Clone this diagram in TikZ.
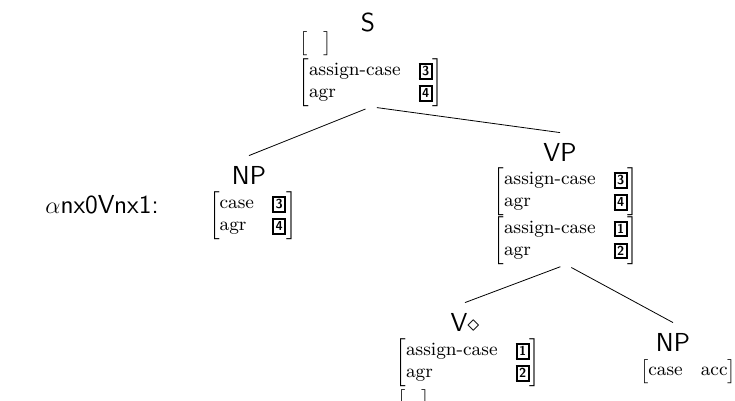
\documentclass[tikz,border=0pt]{standalone}
\usetikzlibrary{positioning}

% boxed re-entrancy tags and feature structures
\newcommand{\tagnum}[1]{{\setlength{\fboxrule}{1pt}\setlength{\fboxsep}{0.8pt}\fbox{\fontsize{6.5}{7}\selectfont\sffamily\bfseries\vphantom{0}#1}}}
\newcommand{\avm}[1]{$\left[\begin{tabular}{@{}l@{\hspace{9pt}}l@{}}#1\end{tabular}\right]$}
\newcommand{\emptyavm}{$\left[\rule[-2.5pt]{0pt}{10.5pt}\hspace{8pt}\right]$}

\begin{document}
\begin{tikzpicture}
[
	x 						= 0.5pt,
	y 						= -0.5pt, % pixel-like grid, y grows downwards
	cat/.style 				=
	{
		font 				= \fontsize{13}{15}\selectfont\sffamily,
		inner sep 			= 5pt
	},
	avm/.style 				=
	{
		font 				= \fontsize{9.4}{11}\selectfont,
		inner sep 			= 0pt
	},
	branch/.style 			= {shorten < = 3pt},
]

\useasboundingbox (0,0) rectangle (735,401);

\node [cat] (treename) at (102,205) {$\alpha$nx0Vnx1:};

% root
\node [cat] (s) at (368,22) {S};
\node [avm, anchor = north west] (sTop) at (299,31) {\emptyavm};
\node [avm, anchor = north] (sBot) at (371,58)
	{\avm{assign-case & \tagnum{3}\\ agr & \tagnum{4}}};

% subject
\node [cat] (npSubj) at (249,175) {NP};
\node [avm, anchor = north] (npSubjAvm) at (253,191)
	{\avm{case & \tagnum{3}\\ agr & \tagnum{4}}};

% verb phrase
\node [cat] (vp) at (560,152) {VP};
\node [avm, anchor = north] (vpTop) at (566,167)
	{\avm{assign-case & \tagnum{3}\\ agr & \tagnum{4}}};
\node [avm, below = 0pt of vpTop] (vpBot)
	{\avm{assign-case & \tagnum{1}\\ agr & \tagnum{2}}};

% anchor verb
\node [cat] (v) at (465,322) {V$\diamond$};
\node [avm, anchor = north] (vTop) at (468,338)
	{\avm{assign-case & \tagnum{1}\\ agr & \tagnum{2}}};
\node [avm, anchor = north west] (vBot) at (397,389) {\emptyavm};

% object, substitution node
\node [cat] (npObj) at (673,342) {NP};
\node [avm, anchor = north] (npObjAvm) at (688,359) {\avm{case & acc}};

\foreach \from/\to in {sBot/npSubj, sBot/vp, vpBot/v, vpBot/npObj}
	\draw [branch] (\from.south) -- (\to.north);

\end{tikzpicture}
\end{document}
